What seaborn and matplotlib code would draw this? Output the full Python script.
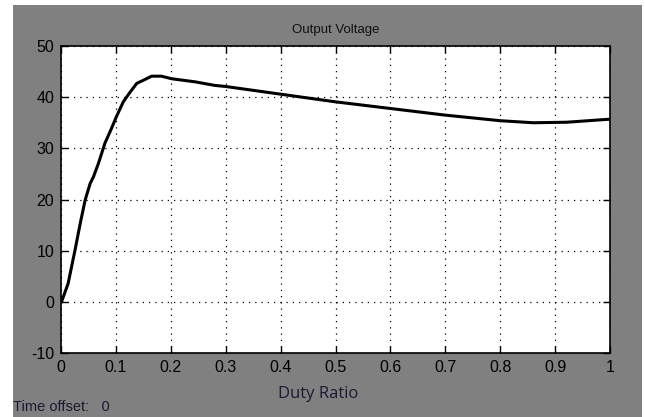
import numpy as np
import pandas as pd
import seaborn as sns
import matplotlib.pyplot as plt
from matplotlib.patches import Rectangle

# values
duty = [0.001, 0.013, 0.0255, 0.035, 0.044, 0.053, 0.059, 0.068, 0.080, 0.092,
        0.101, 0.1135, 0.126, 0.138, 0.150, 0.165, 0.183, 0.2015, 0.244, 0.28,
        0.299, 0.399, 0.499, 0.599, 0.699, 0.80, 0.86, 0.921, 1.0]
voltage = [0.0, 3.6, 10.1, 15.3, 19.9, 23.1, 24.4, 27.0, 31.0, 33.9,
           36.2, 39.1, 41.0, 42.7, 43.3, 44.1, 44.1, 43.6, 43.0, 42.3,
           42.1, 40.6, 39.1, 37.8, 36.5, 35.4, 35.0, 35.1, 35.7]
xticks = [0, 0.1, 0.2, 0.3, 0.4, 0.5, 0.6, 0.7, 0.8, 0.9, 1]
xticklabels = ['0', '0.1', '0.2', '0.3', '0.4', '0.5', '0.6', '0.7', '0.8', '0.9', '1']
yticks = [-10, 0, 10, 20, 30, 40, 50]

df = pd.DataFrame({'duty': duty, 'voltage': voltage})

sns.set_style('ticks')
plt.rcParams['font.family'] = ['Liberation Sans Narrow', 'Liberation Sans', 'DejaVu Sans']
plt.rcParams['axes.unicode_minus'] = False
grey = '#808080'

fig = plt.figure(figsize=(6.45, 4.17), dpi=100, facecolor='white')
fig.patches.append(Rectangle((13/645, 0), (642-13)/645, (417-5)/417,
                             transform=fig.transFigure, facecolor=grey,
                             edgecolor='none', zorder=-5))
ax = fig.add_axes([61/645, 64/417, 549/645, 307/417])
ax.set_zorder(2)
ax.set_facecolor('white')

sns.lineplot(data=df, x='duty', y='voltage', ax=ax, color='black', linewidth=2.2)

ax.set_xlim(0, 1)
ax.set_ylim(-10, 50)
ax.set_xticks(xticks)
ax.set_xticklabels(xticklabels)
ax.set_yticks(yticks)
ax.grid(True, color='black', linestyle=(0, (1, 4)), linewidth=0.9)
ax.tick_params(direction='in', top=True, right=True, length=5, width=1,
               labelsize=11.5, colors='black', pad=5)
for s in ax.spines.values():
    s.set_color('black')
    s.set_linewidth(1.2)
    s.set_visible(True)
ax.set_xlabel('')
ax.set_ylabel('')

fig.text(335.5/645, (417-30)/417, 'Output Voltage', ha='center', va='center',
         fontsize=9.5, color='#111111', zorder=3)
fig.text(318/645, (417-394)/417, 'Duty Ratio', ha='center', va='center',
         fontsize=12, color='#1a1a33', family=['Open Sans', 'DejaVu Sans'], zorder=3)
fig.text(13/645, (417-407)/417, 'Time offset:   0', ha='left', va='center',
         fontsize=10.5, color='#1a1a33', family=['Liberation Sans', 'DejaVu Sans'], zorder=3)

fig.savefig('out.png', dpi=100, facecolor=fig.get_facecolor())
